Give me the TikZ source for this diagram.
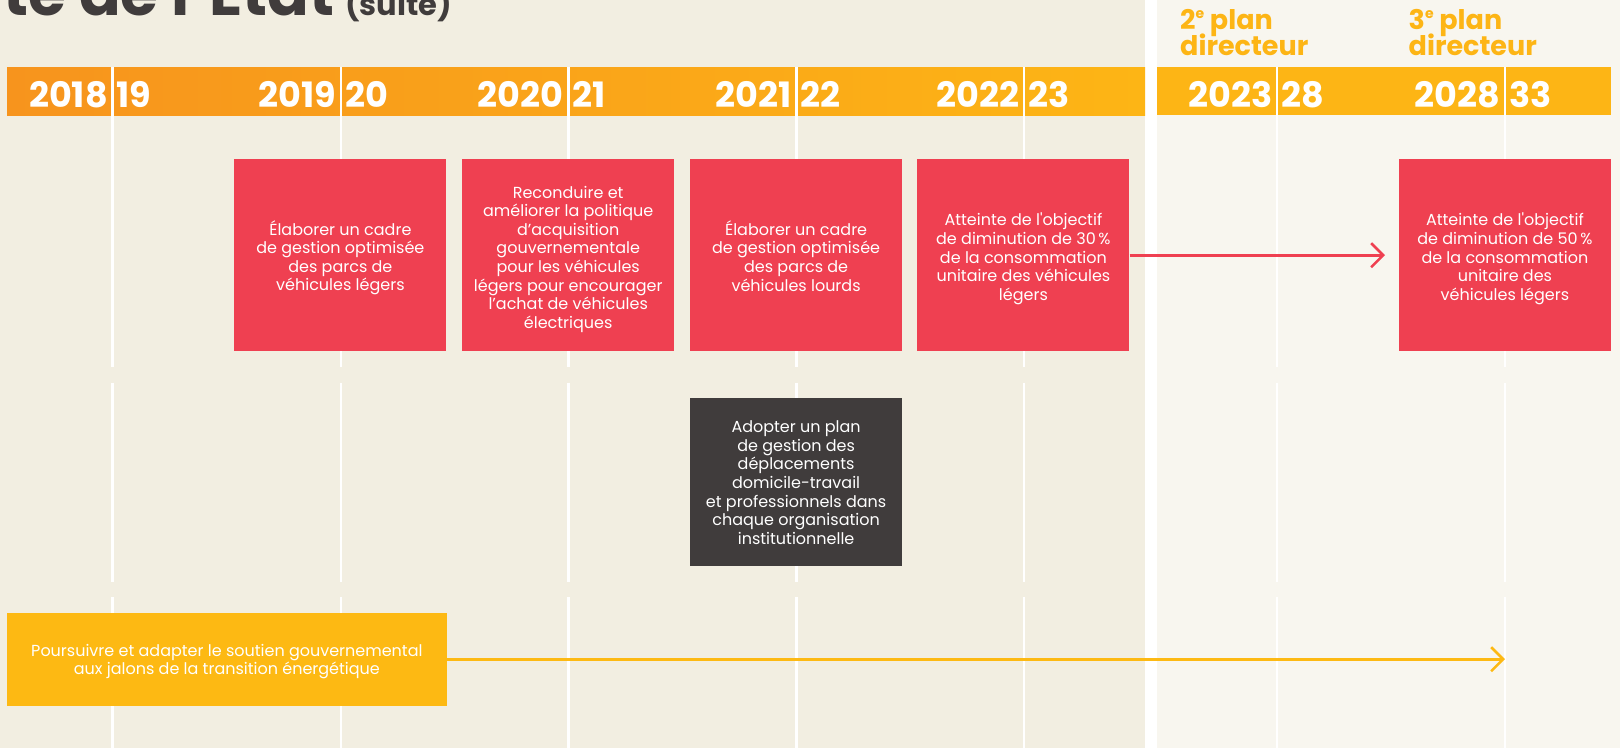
\documentclass[tikz,border=0pt]{standalone}
\usepackage{fontspec}
\setmainfont{Poppins}
\newfontfamily\bx{Poppins}
\usetikzlibrary{arrows.meta}
\definecolor{cBg}{RGB}{242,238,225}
\definecolor{cLight}{RGB}{248,246,239}
\definecolor{cRed}{RGB}{239,64,81}
\definecolor{cDark}{RGB}{64,60,60}
\definecolor{cYel}{RGB}{253,185,19}
\definecolor{cOrange}{RGB}{247,148,29}
\definecolor{cHdr}{RGB}{253,181,21}
\newcommand\supE{\smash{\raisebox{0.75ex}{\fontsize{14}{14}\selectfont e}}}
\newcommand\hiS[1]{\rule{0pt}{#1}}
\newcommand\loS{\rule[-4pt]{0pt}{4pt}}
\newcommand\planfont{\fontsize{27}{25.7}\selectfont\bfseries\setlength{\lineskiplimit}{-100pt}\setlength{\lineskip}{0pt}}
\tikzset{
  sepline/.style={white, line width=2.7},
  yr/.style={text=white, inner sep=0, font=\fontsize{35}{40}\selectfont\bfseries},
  plan/.style={text=cHdr, inner sep=0, align=left, font=\planfont},
  boxtxt/.style={text=white, inner sep=0, align=center, minimum width=212, font=\bx\fontsize{16}{18.6}\selectfont},
  redbox/.style={boxtxt, fill=cRed, minimum height=192.2},
  darkbox/.style={boxtxt, fill=cDark, minimum height=168.4},
  yelbox/.style={boxtxt, fill=cYel, minimum width=439.3, minimum height=93},
  redarrow/.style={draw=cRed, line width=2.6, -{Straight Barb[length=12, width=24]}},
  yelarrow/.style={draw=cYel, line width=2.6, -{Straight Barb[length=12, width=24]}},
}
\begin{document}
\begin{tikzpicture}[x=1pt,y=-1pt]
\useasboundingbox (0,0) rectangle (1620,748);
\clip (0,0) rectangle (1620,748);
% backgrounds
\fill[cBg] (0,0) rectangle (1145,748);
\fill[white] (1145,0) rectangle (1157.3,748);
\fill[cLight] (1157.3,0) rectangle (1620,748);
% header bars
\shade[left color=cOrange, right color=cHdr] (7.2,67) rectangle (1145,115);
\fill[cHdr] (1157.3,67) rectangle (1611,115);
% title (cut off at top)
\node[inner sep=0, anchor=base west, text=cDark, font=\fontsize{61.5}{61.5}\selectfont\bfseries] (title) at (3,15.5) {te de l’État};
\node[inner sep=0, anchor=base west, text=cDark, font=\fontsize{30.5}{30.5}\selectfont\bfseries] (suite) at (345,15.5) {(suite)};
% separators
\foreach \x in {112.6,341,568.3,796.6,1024,1277,1505} {
  \draw[sepline] (\x,67) -- (\x,366.7);
  \draw[sepline] (\x,382.7) -- (\x,581.7);
  \draw[sepline] (\x,597.3) -- (\x,748);
}
% year labels
\node[yr, anchor=base east] (a18) at (108,107.3) {2018};
\node[yr, anchor=base west] (b19) at (116.5,107.3) {19};
\node[yr, anchor=base east] (a19) at (336.5,107.3) {2019};
\node[yr, anchor=base west] (b20) at (345,107.3) {20};
\node[yr, anchor=base east] (a20) at (563.8,107.3) {2020};
\node[yr, anchor=base west] (b21) at (572.3,107.3) {21};
\node[yr, anchor=base east] (a21) at (792.1,107.3) {2021};
\node[yr, anchor=base west] (b22) at (800.6,107.3) {22};
\node[yr, anchor=base east] (a22) at (1019.5,107.3) {2022};
\node[yr, anchor=base west] (b23) at (1028,107.3) {23};
\node[yr, anchor=base east] (a23) at (1272.5,107.3) {2023};
\node[yr, anchor=base west] (b28) at (1281,107.3) {28};
\node[yr, anchor=base east] (a28) at (1500.5,107.3) {2028};
\node[yr, anchor=base west] (b33) at (1509,107.3) {33};
% plan labels
\node[plan, anchor=base west] (p2) at (1180,55) {2\supE{} plan\\directeur};
\node[plan, anchor=base west] (p3) at (1408.5,55) {3\supE{} plan\\directeur};
% boxes
\node[redbox] (b1) at (340.4,255.2) {\hiS{20pt}Élaborer un cadre\\de gestion optimisée\\des parcs de\\véhicules légers\loS};
\node[redbox] (b2) at (568.2,255.2) {\hiS{20pt}Reconduire et\\améliorer la politique\\d’acquisition\\gouvernementale\\pour les véhicules\\légers pour encourager\\l’achat de véhicules\\électriques\loS};
\node[redbox] (b3) at (796.1,255.2) {\hiS{20pt}Élaborer un cadre\\de gestion optimisée\\des parcs de\\véhicules lourds\loS};
\node[redbox] (b4) at (1023.4,255.2) {\hiS{20pt}Atteinte de l'objectif\\de diminution de 30\,\%\\de la consommation\\unitaire des véhicules\\légers\loS};
\node[redbox] (b5) at (1504.9,255.2) {\hiS{20pt}Atteinte de l'objectif\\de diminution de 50\,\%\\de la consommation\\unitaire des\\véhicules légers\loS};
\node[darkbox] (d1) at (796.1,482) {\hiS{17pt}Adopter un plan\\de gestion des\\déplacements\\domicile-travail\\et professionnels dans\\chaque organisation\\institutionnelle\loS};
\node[yelbox] (y1) at (226.9,659.2) {\hiS{17pt}Poursuivre et adapter le soutien gouvernemental\\aux jalons de la transition énergétique\loS};
% arrows
\coordinate (rend) at (1385,255.2);
\coordinate (yend) at (1505,659.2);
\draw[redarrow] (b4.east) -- (rend);
\draw[yelarrow] (y1.east) -- (yend);
\end{tikzpicture}
\end{document}
